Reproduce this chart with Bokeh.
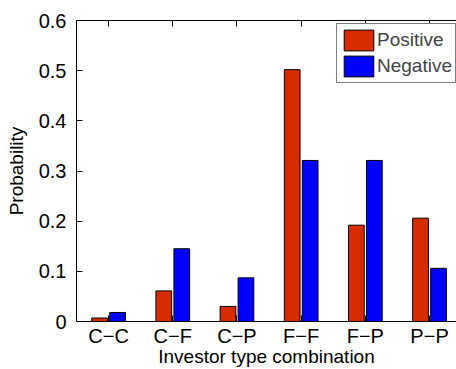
from bokeh.plotting import figure
from bokeh.models import (Range1d, FixedTicker, LinearAxis, Legend, LegendItem,
                          NumeralTickFormatter, ColumnDataSource)
from bokeh.transform import dodge
from bokeh.embed import file_html
from bokeh.resources import INLINE

categories = ["C\u2212C", "C\u2212F", "C\u2212P", "F\u2212F", "F\u2212P", "P\u2212P"]
positive = [0.007, 0.061, 0.030, 0.502, 0.192, 0.206]
negative = [0.018, 0.145, 0.087, 0.321, 0.321, 0.106]
y_ticks = [0, 0.1, 0.2, 0.3, 0.4, 0.5, 0.6]

FONT = "Liberation Sans"
FS = "20px"
RED = "#D92B00"
BLUE = "#0000FF"

xpos = list(range(1, len(categories) + 1))
src = ColumnDataSource(dict(x=xpos, pos=positive, neg=negative))

p = figure(width=456, height=369, x_range=Range1d(0.5, 6.42), y_range=Range1d(0, 0.6),
           output_backend="svg", toolbar_location=None,
           min_border_left=76, min_border_right=0, min_border_top=20, min_border_bottom=46)
p.grid.visible = False
p.outline_line_color = None
p.background_fill_color = "white"
p.border_fill_color = "white"

r_pos = p.vbar(x=dodge("x", -0.14, range=p.x_range), top="pos", width=0.245, source=src,
               fill_color=RED, line_color="black", line_width=1)
r_neg = p.vbar(x=dodge("x", 0.14, range=p.x_range), top="neg", width=0.245, source=src,
               fill_color=BLUE, line_color="black", line_width=1)

xt = FixedTicker(ticks=xpos)
xa = p.xaxis[0]
xa.ticker = xt
xa.major_label_overrides = {i + 1: c for i, c in enumerate(categories)}
xa.axis_label = "Investor type combination"

ya = p.yaxis[0]
ya.ticker = FixedTicker(ticks=y_ticks)
ya.formatter = NumeralTickFormatter(format="0.[0]")
ya.axis_label = "Probability"

for ax in (xa, ya):
    ax.major_tick_in = 6
    ax.major_tick_out = 0
    ax.minor_tick_line_color = None
    ax.axis_line_color = "black"
    ax.axis_line_width = 1
    ax.major_label_text_font = FONT
    ax.major_label_text_font_size = FS
    ax.major_label_text_color = "black"
    ax.axis_label_text_font = FONT
    ax.axis_label_text_font_size = "19px"
    ax.axis_label_text_font_style = "normal"
    ax.axis_label_text_color = "black"
xa.major_label_standoff = 3
xa.axis_label_standoff = -4
ya.major_label_standoff = 10
ya.axis_label_standoff = 9

top = LinearAxis(ticker=xt, major_tick_in=6, major_tick_out=0,
                 minor_tick_line_color=None, major_label_text_font_size="0px",
                 major_label_standoff=0, axis_line_color="black")
top.major_label_overrides = {i: "" for i in xpos}
p.add_layout(top, "above")

legend = Legend(items=[LegendItem(label="Positive", renderers=[r_pos]),
                       LegendItem(label="Negative", renderers=[r_neg])],
                location=(260, 238), orientation="vertical",
                glyph_width=37, glyph_height=26, spacing=0, padding=3, margin=0,
                label_standoff=0, label_text_font=FONT, label_text_font_size="19px",
                label_height=26,
                border_line_color="black", border_line_width=1,
                background_fill_alpha=1.0, background_fill_color="white")
p.add_layout(legend, "center")

open("out.html", "w").write(file_html(p, INLINE))
